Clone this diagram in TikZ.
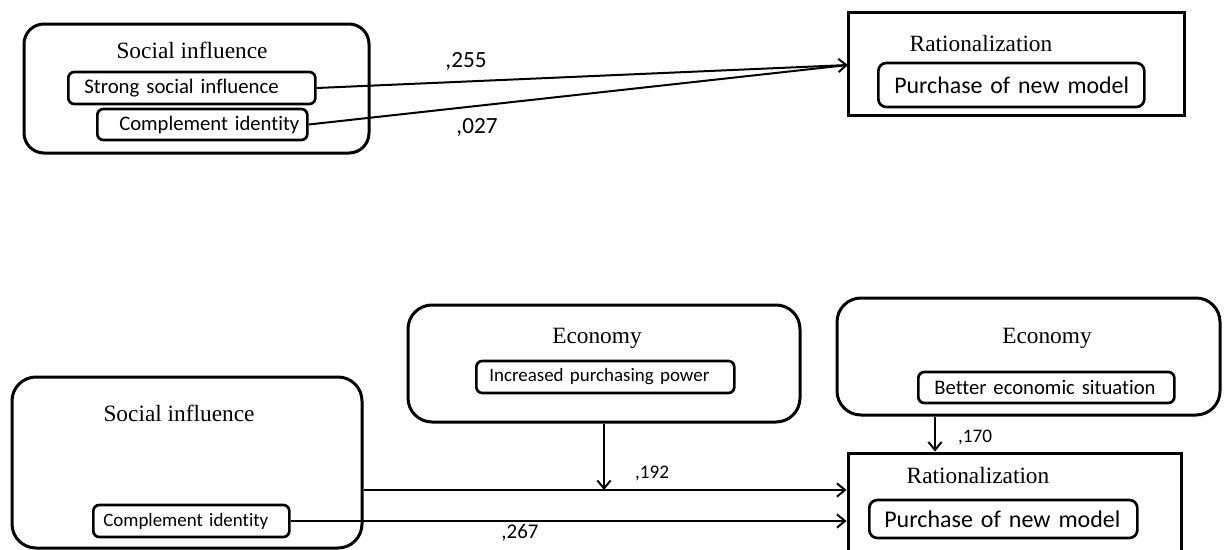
\documentclass[tikz,border=0pt]{standalone}
\usepackage{fontspec}
\setmainfont{Liberation Serif}
\newfontfamily\carl[Ligatures=NoCommon]{Carlito}
\usetikzlibrary{arrows.meta,fit}
\tikzset{
  outerbox/.style={draw, line width=2.25pt, rounded corners=15pt, inner sep=0pt},
  sharpbox/.style={draw, line width=2.25pt, inner sep=0pt},
  inbox/.style={draw, line width=2pt, rounded corners=4.5pt, anchor=west, inner ysep=0pt, align=left},
  title/.style={font=\fontsize{17.5}{21}\selectfont, anchor=base, inner sep=0pt},
  coef/.style={inner sep=0pt},
  link/.style={line width=1.5pt},
  arr/.style={link, -{Straight Barb[length=6pt,width=10pt,line width=1.5pt]}}
}
\begin{document}
\begin{tikzpicture}[x=0.75pt,y=-0.75pt]
\useasboundingbox (0,0) rectangle (1229,550);
\fill[white] (0,0) rectangle (1229,550);
\clip (0,0) rectangle (1229,550);

% ---- upper model ----
\node[outerbox, rounded corners=15pt, fit={(24,24) (369,153)}] (si1) {};
\node[title] (si1t) at (192,58) {Social influence};
\node[inbox, minimum height=24pt, text width=161.25pt, inner xsep=12pt,
      font=\carl\fontsize{15.6}{18}\selectfont] (strong) at (67,88) {\mbox{Strong social influence}};
\node[inbox, minimum height=23.25pt, text width=145.5pt, inner xsep=6pt, align=right,
      font=\carl\fontsize{15.5}{18}\selectfont] (comp1) at (96,124.5) {\mbox{Complement identity}};

\node[sharpbox, fit={(848,12) (1184,115)}] (rat1) {};
\node[title] (rat1t) at (981,51) {Rationalization};
\node[inbox, minimum height=33pt, text width=175.5pt, inner xsep=12pt, rounded corners=6pt,
      font=\carl\fontsize{17.9}{21}\selectfont] (buy1) at (877,85) {\mbox{Purchase of new model}};

\coordinate (hit1) at (848,65);
\draw[link] (comp1.east) -- (hit1);
\draw[arr] (strong.east) -- (hit1);
\node[coef, font=\carl\fontsize{17.4}{20}\selectfont] (c255) at (466,61) {,255};
\node[coef, font=\carl\fontsize{17.4}{20}\selectfont] (c027) at (477,127) {,027};

% ---- lower model ----
\node[outerbox, rounded corners=18pt, fit={(408,305) (800,422)}] (eco1) {};
\node[title] (eco1t) at (597,343) {Economy};
\node[inbox, minimum height=24pt, text width=174pt, inner xsep=9.75pt,
      font=\carl\fontsize{14.2}{17}\selectfont] (power) at (475,377) {\mbox{Increased purchasing power}};

\node[outerbox, rounded corners=18pt, fit={(837,298) (1220,415)}] (eco2) {};
\node[title] (eco2t) at (1047,343) {Economy};
\node[inbox, minimum height=23.25pt, text width=168pt, inner xsep=12pt,
      font=\carl\fontsize{15.5}{18}\selectfont] (better) at (917,387.5) {\mbox{Better economic situation}};

\node[outerbox, rounded corners=18pt, fit={(12,377) (362,548)}] (si2) {};
\node[title] (si2t) at (179,421) {Social influence};
\node[inbox, minimum height=24pt, text width=132pt, inner xsep=7.5pt,
      font=\carl\fontsize{14.2}{17}\selectfont] (comp2) at (92,521) {\mbox{Complement identity}};

\node[sharpbox, fit={(848,453) (1181,565)}] (rat2) {};
\node[title] (rat2t) at (978,483) {Rationalization};
\node[inbox, minimum height=28.5pt, text width=178.5pt, inner xsep=11.25pt, rounded corners=6pt,
      font=\carl\fontsize{18}{21}\selectfont] (buy2) at (868,519) {\mbox{Purchase of new model}};

\coordinate (mod) at (604,490);
\coordinate (drop) at (935,0);
\draw[arr] (si2.east |- mod) -- (rat2.west |- mod);
\draw[arr] (eco1.south) -- (mod);
\draw[arr] (comp2.east) -- (rat2.west |- comp2.east);
\draw[arr] (eco2.south -| drop) -- (rat2.north -| drop);

\node[coef, font=\carl\fontsize{14.4}{17}\selectfont] (c192) at (652,473) {,192};
\node[coef, font=\carl\fontsize{15.7}{18}\selectfont] (c267) at (520,533) {,267};
\node[coef, font=\carl\fontsize{14.4}{17}\selectfont] (c170) at (975,437) {,170};
\end{tikzpicture}
\end{document}
